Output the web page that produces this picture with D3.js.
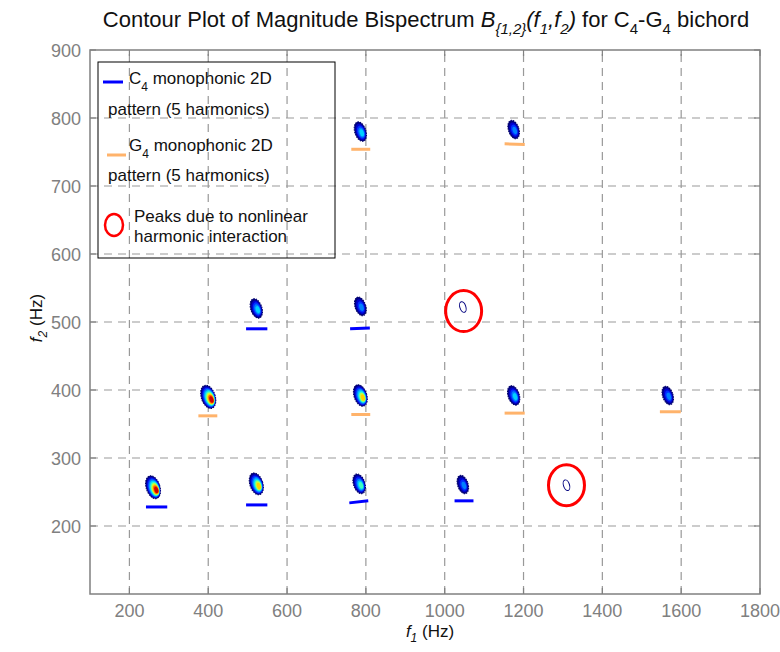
<!DOCTYPE html>
<html lang="en">
<head>
  <meta charset="UTF-8">
  <title>Contour Plot of Magnitude Bispectrum</title>
  <script src="https://d3js.org/d3.v7.min.js"></script>
  <style>
    body { margin: 0; background: #fff; font-family: "Liberation Sans", Arial, sans-serif; }
    .grid line { stroke: #999; stroke-dasharray: 8,6; stroke-width: 1.2; }
    .tick-label { fill: #808080; font-size: 18px; }
    .legend text { font-size: 17px; fill: #111; }
  </style>
</head>
<body>
  <svg width="780" height="652"></svg>
  <script>
    // axis ticks
    const xTicks = [200, 400, 600, 800, 1000, 1200, 1400, 1600, 1800];
    const yTicks = [200, 300, 400, 500, 600, 700, 800, 900];

    // bispectrum peaks (f1, f2 in Hz) and relative magnitude
    const peakF1 = [260, 522, 783, 1046, 1309, 400, 786, 1175, 1566, 522, 786, 1046, 786, 1175];
    const peakF2 = [257, 262, 262, 261, 260, 390, 392, 392, 392, 520, 523, 522, 780, 783];
    const peakMag = [0.95, 0.8, 0.5, 0.3, 0.04, 1.0, 0.75, 0.45, 0.3, 0.45, 0.35, 0.06, 0.45, 0.3];

    // C4 monophonic pattern segments: f1 start/end, f2 start/end
    const c4F1a = [242, 496, 758, 1025, 496, 760];
    const c4F1b = [296, 550, 806, 1073, 550, 810];
    const c4F2a = [228, 231, 234, 237, 490, 490];
    const c4F2b = [228, 231, 237, 237, 490, 491];

    // G4 monophonic pattern segments
    const g4F1a = [375, 763, 1152, 1546, 763, 1152];
    const g4F1b = [423, 811, 1203, 1599, 811, 1203];
    const g4F2a = [362, 364, 366, 368, 754, 762];
    const g4F2b = [362, 364, 366, 368, 754, 761];

    // nonlinear interaction peaks (circled)
    const ringF1 = [1048, 1309];
    const ringF2 = [516, 260];

    const svg = d3.select("svg");
    const x = d3.scaleLinear().domain([100, 1800]).range([90, 760]);
    const y = d3.scaleLinear().domain([100, 900]).range([594, 50]);

    // grid
    const grid = svg.append("g").attr("class", "grid");
    grid.selectAll(".gx").data(xTicks.filter(d => d < 1800)).enter().append("line")
      .attr("x1", d => x(d)).attr("x2", d => x(d)).attr("y1", y(100)).attr("y2", y(900));
    grid.selectAll(".gy").data(yTicks.filter(d => d < 900)).enter().append("line")
      .attr("y1", d => y(d)).attr("y2", d => y(d)).attr("x1", x(100)).attr("x2", x(1800));

    // frame
    svg.append("rect")
      .attr("x", x(100)).attr("y", y(900))
      .attr("width", x(1800) - x(100)).attr("height", y(100) - y(900))
      .attr("fill", "none").attr("stroke", "#808080").attr("stroke-width", 1.5);

    // inward ticks
    const tk = svg.append("g").attr("stroke", "#808080").attr("stroke-width", 1.2);
    xTicks.forEach(t => {
      tk.append("line").attr("x1", x(t)).attr("x2", x(t)).attr("y1", y(100)).attr("y2", y(100) - 6);
      tk.append("line").attr("x1", x(t)).attr("x2", x(t)).attr("y1", y(900)).attr("y2", y(900) + 6);
    });
    yTicks.forEach(t => {
      tk.append("line").attr("y1", y(t)).attr("y2", y(t)).attr("x1", x(100)).attr("x2", x(100) + 6);
      tk.append("line").attr("y1", y(t)).attr("y2", y(t)).attr("x1", x(1800)).attr("x2", x(1800) - 6);
    });

    svg.selectAll(".xl").data(xTicks).enter().append("text")
      .attr("class", "tick-label")
      .attr("x", d => x(d)).attr("y", y(100) + 23)
      .attr("text-anchor", "middle").text(d => d);
    svg.selectAll(".yl").data(yTicks).enter().append("text")
      .attr("class", "tick-label")
      .attr("x", x(100) - 9).attr("y", d => y(d) + 7)
      .attr("text-anchor", "end").text(d => d);

    // jet-like contour levels
    const jet = ["#00007f", "#0000d0", "#0030ff", "#0080ff", "#00d0ff", "#40ffc0", "#c0ff40", "#ffd000", "#ff6000", "#d00000"];
    const peaks = peakF1.map((f, i) => ({ f1: f, f2: peakF2[i], m: peakMag[i] }));
    const blobs = svg.append("g");
    peaks.forEach(p => {
      const cx = x(p.f1), cy = y(p.f2);
      const g = blobs.append("g").attr("transform", `translate(${cx},${cy}) rotate(-18)`);
      if (p.m < 0.1) {
        g.append("ellipse").attr("rx", 3).attr("ry", 5.5)
          .attr("fill", "none").attr("stroke", "#00007f").attr("stroke-width", 1);
        return;
      }
      const rx = 4.5 + 2.5 * p.m, ry = 8.5 + 3.5 * p.m;
      const n = Math.max(2, Math.round(p.m * (jet.length - 1)) + 1);
      for (let k = 0; k < n; k++) {
        const s = 1 - 0.8 * k / n;
        g.append("ellipse")
          .attr("cx", k * 0.25).attr("cy", k * 0.4)
          .attr("rx", rx * s).attr("ry", ry * s)
          .attr("fill", jet[k])
          .attr("stroke", k === 0 ? "#00006a" : "none")
          .attr("stroke-width", 1)
          .attr("stroke-dasharray", k === 0 ? "1.5,1" : null);
      }
    });

    // pattern segments
    const segs = svg.append("g");
    c4F1a.forEach((f, i) => {
      segs.append("line")
        .attr("x1", x(f)).attr("x2", x(c4F1b[i]))
        .attr("y1", y(c4F2a[i])).attr("y2", y(c4F2b[i]))
        .attr("stroke", "#0000ff").attr("stroke-width", 3);
    });
    g4F1a.forEach((f, i) => {
      segs.append("line")
        .attr("x1", x(f)).attr("x2", x(g4F1b[i]))
        .attr("y1", y(g4F2a[i])).attr("y2", y(g4F2b[i]))
        .attr("stroke", "#ffb36b").attr("stroke-width", 3);
    });

    // rings
    svg.selectAll(".ring").data(ringF1).enter().append("ellipse")
      .attr("cx", d => x(d)).attr("cy", (d, i) => y(ringF2[i]))
      .attr("rx", 18).attr("ry", 20.5)
      .attr("fill", "none").attr("stroke", "#ff0000").attr("stroke-width", 3);

    // legend
    const lg = svg.append("g").attr("class", "legend");
    lg.append("rect").attr("x", 98).attr("y", 62).attr("width", 237).attr("height", 196)
      .attr("fill", "none").attr("stroke", "#000").attr("stroke-width", 1);
    lg.append("line").attr("x1", 103).attr("x2", 123).attr("y1", 82).attr("y2", 82)
      .attr("stroke", "#0000ff").attr("stroke-width", 3);
    const t1 = lg.append("text").attr("x", 129).attr("y", 84);
    t1.append("tspan").text("C");
    t1.append("tspan").attr("font-size", 12).attr("dy", 7).text("4");
    t1.append("tspan").attr("dy", -7).text(" monophonic 2D");
    lg.append("text").attr("x", 108).attr("y", 115).text("pattern (5 harmonics)");
    lg.append("line").attr("x1", 107).attr("x2", 126).attr("y1", 155).attr("y2", 155)
      .attr("stroke", "#ffb36b").attr("stroke-width", 3);
    const t2 = lg.append("text").attr("x", 129).attr("y", 151);
    t2.append("tspan").text("G");
    t2.append("tspan").attr("font-size", 12).attr("dy", 7).text("4");
    t2.append("tspan").attr("dy", -7).text(" monophonic 2D");
    lg.append("text").attr("x", 108).attr("y", 181).text("pattern (5 harmonics)");
    lg.append("ellipse").attr("cx", 114).attr("cy", 225).attr("rx", 9).attr("ry", 11)
      .attr("fill", "none").attr("stroke", "#ff0000").attr("stroke-width", 2.5);
    lg.append("text").attr("x", 134).attr("y", 222).text("Peaks due to nonlinear");
    lg.append("text").attr("x", 134).attr("y", 242).text("harmonic interaction");

    // title
    const title = svg.append("text").attr("x", 426).attr("y", 27)
      .attr("text-anchor", "middle").attr("font-size", 22)
      .attr("fill", "#111");
    title.append("tspan").text("Contour Plot of Magnitude Bispectrum ");
    title.append("tspan").attr("font-style", "italic").text("B");
    title.append("tspan").attr("font-style", "italic").attr("font-size", 15).attr("dy", 7).text("{1,2}");
    title.append("tspan").attr("font-style", "italic").attr("dy", -7).text("(f");
    title.append("tspan").attr("font-style", "italic").attr("font-size", 15).attr("dy", 7).text("1");
    title.append("tspan").attr("font-style", "italic").attr("dy", -7).text(",f");
    title.append("tspan").attr("font-style", "italic").attr("font-size", 15).attr("dy", 7).text("2");
    title.append("tspan").attr("font-style", "italic").attr("dy", -7).text(")");
    title.append("tspan").text(" for C");
    title.append("tspan").attr("font-size", 15).attr("dy", 7).text("4");
    title.append("tspan").attr("dy", -7).text("-G");
    title.append("tspan").attr("font-size", 15).attr("dy", 7).text("4");
    title.append("tspan").attr("dy", -7).text(" bichord");

    // axis labels
    const xl = svg.append("text").attr("x", 430).attr("y", 637).attr("text-anchor", "middle")
      .attr("font-size", 17).attr("fill", "#111");
    xl.append("tspan").attr("font-style", "italic").text("f");
    xl.append("tspan").attr("font-style", "italic").attr("font-size", 12).attr("dy", 5).text("1");
    xl.append("tspan").attr("dy", -5).text(" (Hz)");
    const yl = svg.append("text").attr("transform", "translate(42,318) rotate(-90)")
      .attr("text-anchor", "middle").attr("font-size", 17).attr("fill", "#111");
    yl.append("tspan").attr("font-style", "italic").text("f");
    yl.append("tspan").attr("font-style", "italic").attr("font-size", 12).attr("dy", 5).text("2");
    yl.append("tspan").attr("dy", -5).text(" (Hz)");
  </script>
</body>
</html>
